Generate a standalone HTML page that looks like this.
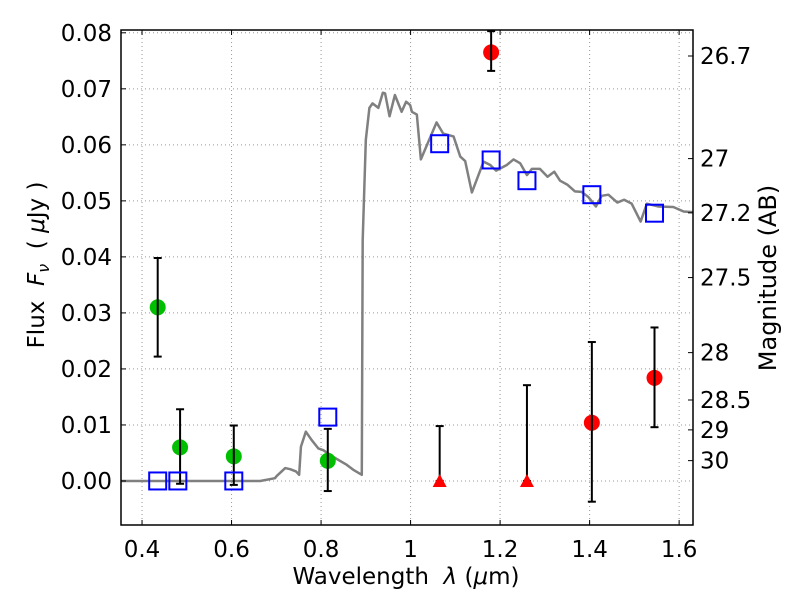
<!DOCTYPE html>
<html><head><meta charset="utf-8"><style>
body{margin:0;background:#fff}
svg text{font-family:"DejaVu Sans","Liberation Sans",sans-serif;fill:#000}
</style></head><body>
<svg id="chart" width="800" height="600" xmlns="http://www.w3.org/2000/svg"></svg>
<script>
const specWl=[0.353,0.5,0.664,0.697,0.701,0.720,0.731,0.744,0.751,0.755,0.766,0.779,0.794,0.805,0.827,0.857,0.872,0.891,0.893,0.900,0.908,0.915,0.928,0.938,0.943,0.953,0.965,0.980,0.990,0.999,1.003,1.014,1.023,1.058,1.073,1.096,1.111,1.122,1.137,1.163,1.178,1.191,1.215,1.230,1.245,1.260,1.271,1.289,1.306,1.321,1.334,1.350,1.367,1.382,1.397,1.414,1.427,1.442,1.462,1.477,1.494,1.514,1.528,1.553,1.587,1.610,1.630];
const specFlux=[0,0,0,0.0005,0.0009,0.0023,0.0021,0.0017,0.0011,0.0061,0.0088,0.0073,0.0058,0.0055,0.0043,0.0029,0.0020,0.0011,0.043,0.0609,0.0666,0.0674,0.0666,0.0693,0.0692,0.0651,0.0689,0.0659,0.0677,0.0671,0.0659,0.0654,0.0574,0.0640,0.0620,0.0615,0.0579,0.0571,0.0515,0.0570,0.0564,0.0554,0.0564,0.0574,0.0567,0.0546,0.0557,0.0557,0.0543,0.0552,0.0536,0.0529,0.0517,0.0516,0.0507,0.0490,0.0509,0.0511,0.0497,0.0502,0.0495,0.0463,0.0495,0.0490,0.0489,0.0481,0.0480];
const greenWl=[0.435,0.485,0.605,0.815];
const greenFlux=[0.031,0.006,0.0044,0.0036];
const greenLo=[0.0222,-0.0005,-0.0007,-0.0018];
const greenHi=[0.0398,0.0128,0.0099,0.0093];
const redWl=[1.18,1.405,1.545];
const redFlux=[0.0765,0.0104,0.0184];
const redLo=[0.0732,-0.0037,0.0096];
const redHi=[0.0803,0.0248,0.0274];
const limWl=[1.065,1.26];
const limFlux=[0,0];
const limHi=[0.0098,0.0171];
const sqWl=[0.435,0.48,0.605,0.815,1.065,1.18,1.26,1.405,1.545];
const sqFlux=[0,0,0,0.0114,0.0602,0.0573,0.0536,0.0511,0.0478];
const xTicks=[0.4,0.6,0.8,1.0,1.2,1.4,1.6];
const xTickLabels=["0.4","0.6","0.8","1","1.2","1.4","1.6"];
const yTicks=[0,0.01,0.02,0.03,0.04,0.05,0.06,0.07,0.08];
const yTickLabels=["0.00","0.01","0.02","0.03","0.04","0.05","0.06","0.07","0.08"];
const magTicks=[26.7,27,27.2,27.5,28,28.5,29,30];
const magTickLabels=["26.7","27","27.2","27.5","28","28.5","29","30"];

const L=121,R=693,T=30,B=525;
const X0=0.353,X1=1.631,Y0=-0.00786,Y1=0.0805;
const sx=v=>L+(v-X0)/(X1-X0)*(R-L);
const sy=v=>B-(v-Y0)/(Y1-Y0)*(B-T);
const svg=document.getElementById('chart');
const NS='http://www.w3.org/2000/svg';
function mk(tag,attrs,parent){const e=document.createElementNS(NS,tag);for(const k in attrs)e.setAttribute(k,attrs[k]);(parent||svg).appendChild(e);return e;}

xTicks.forEach(v=>{const l=mk('line',{x1:sx(v),x2:sx(v),y1:T,y2:B,stroke:'#999','stroke-width':1,'stroke-dasharray':'1,3'});

});
yTicks.forEach(v=>{const l=mk('line',{x1:L,x2:R,y1:sy(v),y2:sy(v),stroke:'#999','stroke-width':1,'stroke-dasharray':'1,3'});

});

const sp=mk('polyline',{points:specWl.map((w,i)=>sx(w)+','+sy(specFlux[i])).join(' '),fill:'none',stroke:'#808080','stroke-width':2.5,'stroke-linejoin':'round'});



function errbar(x,lo,hi,name){const g=mk('g',{stroke:'#000','stroke-width':2});


mk('line',{x1:sx(x),x2:sx(x),y1:sy(lo),y2:sy(hi)},g);
mk('line',{x1:sx(x)-4,x2:sx(x)+4,y1:sy(lo),y2:sy(lo)},g);
mk('line',{x1:sx(x)-4,x2:sx(x)+4,y1:sy(hi),y2:sy(hi)},g);}

greenWl.forEach((w,i)=>{const c=mk('circle',{cx:sx(w),cy:sy(greenFlux[i]),r:8,fill:'#00bf00'});


errbar(w,greenLo[i],greenHi[i],'green-error-bar');});
redWl.forEach((w,i)=>{const c=mk('circle',{cx:sx(w),cy:sy(redFlux[i]),r:8,fill:'#ff0000'});


errbar(w,redLo[i],redHi[i],'red-error-bar');});
limWl.forEach((w,i)=>{const x=sx(w),y=sy(limFlux[i]);
errbar(w,limFlux[i],limHi[i],'upper-limit-error-bar');
const t=mk('polygon',{points:`${x},${y-7} ${x-7},${y+6} ${x+7},${y+6}`,fill:'#ff0000'});

});
sqWl.forEach((w,i)=>{const r=mk('rect',{x:sx(w)-8.5,y:sy(sqFlux[i])-8.5,width:17,height:17,fill:'none',stroke:'#0000ff','stroke-width':2});

});

const fr=mk('rect',{x:L,y:T,width:R-L,height:B-T,fill:'none',stroke:'#000','stroke-width':1.5});



xTicks.forEach((v,i)=>{mk('line',{x1:sx(v),x2:sx(v),y1:B,y2:B-5,stroke:'#000'});mk('line',{x1:sx(v),x2:sx(v),y1:T,y2:T+5,stroke:'#000'});
const t=mk('text',{x:sx(v),y:B+32,'text-anchor':'middle','font-size':23});t.textContent=xTickLabels[i];

});
yTicks.forEach((v,i)=>{mk('line',{x1:L,x2:L+5,y1:sy(v),y2:sy(v),stroke:'#000'});
const t=mk('text',{x:L-9,y:sy(v)+8,'text-anchor':'end','font-size':23});t.textContent=yTickLabels[i];

});
magTicks.forEach((m,i)=>{const f=Math.pow(10,(23.9-m)/2.5);const y=sy(f);
mk('line',{x1:R,x2:R-5,y1:y,y2:y,stroke:'#000'});
const t=mk('text',{x:R+7,y:y+8,'font-size':23});t.textContent=magTickLabels[i];

});
</script>
<svg width="800" height="600" style="position:absolute;left:0;top:0">
<text x="406" y="584" text-anchor="middle" font-size="23" xml:space="preserve">Wavelength  <tspan font-style="italic">λ</tspan> (<tspan font-style="italic">μ</tspan>m)</text>
<text transform="translate(44,265) rotate(-90)" text-anchor="middle" font-size="23" xml:space="preserve">Flux  <tspan font-style="italic">F</tspan><tspan font-style="italic" font-size="16" dy="5">ν</tspan><tspan dy="-5">  ( </tspan><tspan font-style="italic">μ</tspan>Jy )</text>
<text transform="translate(776,278) rotate(-90)" text-anchor="middle" font-size="24">Magnitude (AB)</text>
</svg>
</body></html>
